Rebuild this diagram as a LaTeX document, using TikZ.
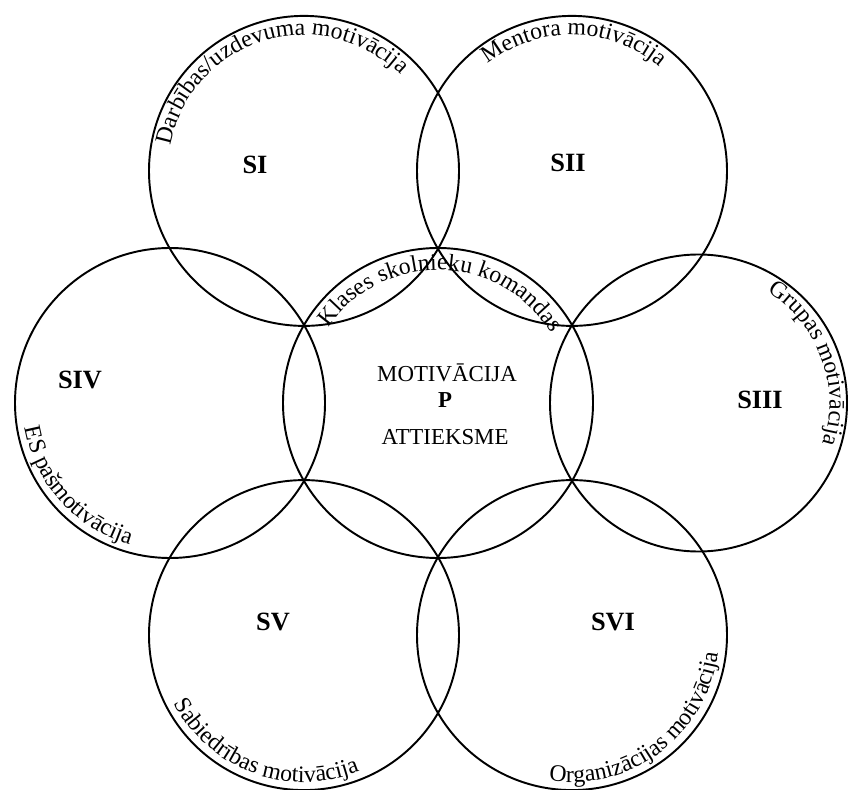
\documentclass[tikz,border=0pt]{standalone}
\usepackage{fontspec}
\setmainfont{Liberation Serif}
\usepackage{tikz}
\usetikzlibrary{decorations.text}

\newcommand{\arcfont}{\fontsize{13.5}{16}\selectfont}

\begin{document}
\begin{tikzpicture}[
		ring/.style={draw, circle, minimum size=6.2cm, inner sep=0pt, line width=1.1pt},
		sname/.style={font=\fontsize{15}{18}\selectfont\bfseries},
		core/.style={font=\fontsize{13}{15}\selectfont},
		arclabel/.style={decorate, decoration={text along path, text align=center}}
	]
	\useasboundingbox (0,0) rectangle (17,15.78);
	\begin{scope}[shift={(8.76,7.72)}]
		\node[ring] (P) at (0,0) {};
		\node[ring] (cI) at (120:5.36) {};
		\node[ring] (cII) at (60:5.36) {};
		\node[ring, minimum size=5.94cm] (cIII) at (5.21,0) {};
		\node[ring] (cIV) at (180:5.36) {};
		\node[ring] (cV) at (240:5.36) {};
		\node[ring] (cVI) at (300:5.36) {};
		%
		\node[sname] (SI) at (-3.66,4.76) {SI};
		\node[sname] (SII) at (2.60,4.80) {SII};
		\node[sname] (SIII) at (6.44,0.06) {SIII};
		\node[sname] (SIV) at (-7.16,0.46) {SIV};
		\node[sname] (SV) at (-3.30,-4.38) {SV};
		\node[sname] (SVI) at (3.50,-4.38) {SVI};
		%
		\node[core] (mot) at (0.18,0.60) {MOTIVĀCIJA};
		\node[core, font=\fontsize{13}{15}\selectfont\bfseries] (Pname) at (0.14,0.06) {P};
		\node[core] (att) at (0.14,-0.68) {ATTIEKSME};
		%
		\path[arclabel, decoration={text={|\arcfont|Klases skolnieku komandas}}]
			(163:2.66) arc[start angle=163, end angle=14, radius=2.66];
		\path[arclabel, shift={(120:5.36)}, decoration={text={|\arcfont|Darbības/uzdevuma motivācija}}]
			(182:2.72) arc[start angle=182, end angle=32, radius=2.72];
		\path[arclabel, shift={(60:5.36)}, decoration={text={|\arcfont|Mentora motivācija}}]
			(164:2.72) arc[start angle=164, end angle=14, radius=2.72];
		\path[arclabel, shift={(5.21,0)}, decoration={text={|\arcfont|Grupas motivācija}}]
			(95:2.62) arc[start angle=95, end angle=-55, radius=2.62];
		\path[arclabel, shift={(180:5.36)}, decoration={text={|\arcfont|ES pašmotivācija}}]
			(147:2.94) arc[start angle=147, end angle=297, radius=2.94];
		\path[arclabel, shift={(240:5.36)}, decoration={text={|\arcfont|Sabiedrības motivācija}}]
			(175:2.94) arc[start angle=175, end angle=325, radius=2.94];
		\path[arclabel, shift={(300:5.36)}, decoration={text={|\arcfont|Organizācijas motivācija}}]
			(232:2.94) arc[start angle=232, end angle=382, radius=2.94];
	\end{scope}
\end{tikzpicture}
\end{document}
